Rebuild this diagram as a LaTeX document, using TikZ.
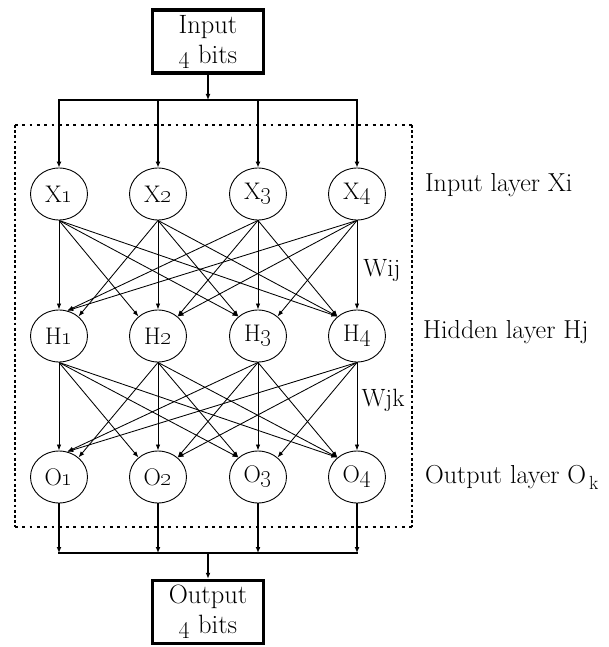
\documentclass[tikz,border=0pt]{standalone}
\usetikzlibrary{arrows.meta,shapes.geometric,calc}
\begin{document}
\begin{tikzpicture}[x=1pt,y=-1pt,
  neuron/.style={ellipse,draw,line width=0.9pt,minimum width=57pt,minimum height=52pt,
    inner sep=0pt,font=\fontsize{24}{28}\selectfont},
  iobox/.style={draw,line width=3.5pt,minimum width=111pt,minimum height=63pt,
    align=center,inner sep=0pt,font=\fontsize{26.5}{30}\selectfont},
  lbl/.style={anchor=west,inner sep=0pt,font=\fontsize{26}{30}\selectfont},
  wlbl/.style={inner sep=0pt,font=\fontsize{25}{28}\selectfont},
  link/.style={line width=0.85pt,-{Latex[length=6pt,width=4.5pt]}},
  feed/.style={line width=1.6pt,-{Latex[length=6pt,width=5pt]}},
  bus/.style={line width=2.8pt,line cap=rect},
  dotsh/.style={line width=2.8pt,dash pattern=on 2.8pt off 4.5pt},
  dotsv/.style={line width=2.8pt,dash pattern=on 2.8pt off 2.4pt},
]
\useasboundingbox (0,0) rectangle (609,647);

% neurons of the three layers
\foreach \i/\x in {1/59,2/158,3/258,4/357}{
  \node[neuron] (X\i) at (\x,194) {X\oldstylenums{\i}};
  \node[neuron] (H\i) at (\x,336) {H\oldstylenums{\i}};
  \node[neuron] (O\i) at (\x,477) {O\oldstylenums{\i}};
}

% input and output blocks
\node[iobox] (in) at (208,41.5) {Input\\\oldstylenums{4} bits};
\node[iobox] (out) at (208,612) {Output\\\oldstylenums{4} bits};

% distribution buses
\coordinate (tb) at (208,100);
\coordinate (bb) at (208,553);
\draw[feed] (in) -- (tb);
\draw[bus] (X1 |- tb) -- (X4 |- tb);
\foreach \i in {1,...,4} \draw[feed] (X\i |- tb) -- (X\i.north);
\foreach \i in {1,...,4} \draw[feed] (O\i.south) -- (O\i |- bb);
\draw[bus] (O1 |- bb) -- (O4 |- bb);
\draw[feed] (bb) -- (out);

% dotted frame around the network
\coordinate (f1) at (15,125);
\coordinate (f2) at (412,125);
\coordinate (f3) at (412,527);
\coordinate (f4) at (15,527);
\draw[dotsh] (f1) -- (f2);
\draw[dotsh] (f4) -- (f3);
\draw[dotsv] (f1) -- (f4);
\draw[dotsv] (f2) -- (f3);

% fully connected weights
\foreach \s in {1,...,4}{
  \foreach \t in {1,...,4}{
    \ifnum\s=\t \def\anc{north}\else\ifnum\s<\t \def\anc{135}\else\def\anc{45}\fi\fi
    \ifnum\t=1 \ifnum\s>2 \def\anc{72}\fi\fi
    \draw[link] (X\s.south) -- (H\t.\anc);
    \draw[link] (H\s.south) -- (O\t.\anc);
  }
}

% layer and weight labels
\node[lbl] (lx) at (425,185) {Input layer Xi};
\node[lbl] (lh) at (423,332) {Hidden layer Hj};
\node[lbl] (lo) at (425,477) {Output layer O\hspace{3pt}\raisebox{-6pt}{\fontsize{19}{19}\selectfont k}};
\node[wlbl] (wij) at (382,270) {Wij};
\node[wlbl] (wjk) at (383,400) {Wjk};
\end{tikzpicture}
\end{document}
